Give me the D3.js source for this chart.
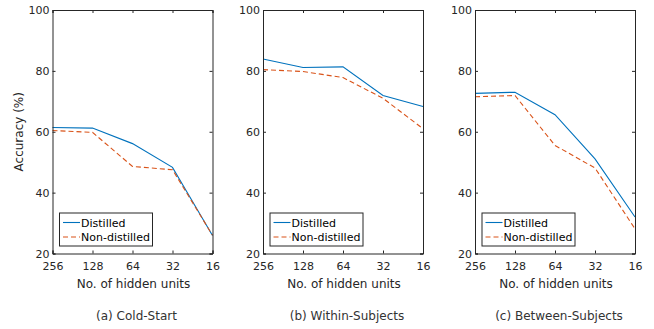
<!DOCTYPE html>
<html>
<head>
<meta charset="utf-8">
<script src="https://cdn.jsdelivr.net/npm/d3@7"></script>
<style>
  body { margin: 0; background: #fff; }
  svg { display: block; font-family: "DejaVu Sans", sans-serif; }
</style>
</head>
<body>
<svg id="chart" width="654" height="329"></svg>
<script>
// hidden units (x categories)
const units = ["256", "128", "64", "32", "16"];
const yTicks = [20, 40, 60, 80, 100];
const seriesNames = ["Distilled", "Non-distilled"];

// (a) Cold-Start
const coldDistilled = [61.4, 61.2, 56.1, 48.3, 25.9];
const coldNonDistilled = [60.4, 59.8, 48.6, 47.5, 26.0];
// (b) Within-Subjects
const withinDistilled = [83.9, 81.1, 81.3, 71.9, 68.3];
const withinNonDistilled = [80.4, 79.8, 77.8, 71.0, 61.0];
// (c) Between-Subjects
const betweenDistilled = [72.6, 73.0, 65.6, 51.1, 32.0];
const betweenNonDistilled = [71.5, 71.9, 55.5, 48.1, 28.1];

const captions = ["(a) Cold-Start", "(b) Within-Subjects", "(c) Between-Subjects"];

const panels = [
  { left: 52.5, data: [coldDistilled, coldNonDistilled] },
  { left: 263, data: [withinDistilled, withinNonDistilled] },
  { left: 475, data: [betweenDistilled, betweenNonDistilled] }
];

const colors = ["#0072BD", "#D95319"];
const dashes = [null, "5,3"];
const axisColor = "#262626";

const svg = d3.select("#chart");
const plotTop = 10, plotBottom = 253.5, plotWidth = 160;

panels.forEach((p, pi) => {
  const x = d3.scalePoint().domain(units).range([p.left, p.left + plotWidth]);
  const y = d3.scaleLinear().domain([20, 100]).range([plotBottom, plotTop]);

  const g = svg.append("g");

  // lines
  const line = d3.line().x((d, i) => x(units[i])).y(d => y(d));
  p.data.forEach((vals, si) => {
    g.append("path")
      .attr("d", line(vals))
      .attr("fill", "none")
      .attr("stroke", colors[si])
      .attr("stroke-width", 1.1)
      .attr("stroke-dasharray", dashes[si]);
  });

  // axes (inside ticks, box)
  const left = g.append("g").attr("transform", `translate(${p.left},0)`)
    .call(d3.axisLeft(y).tickValues(yTicks).tickSize(-3).tickPadding(5));
  const right = g.append("g").attr("transform", `translate(${p.left + plotWidth},0)`)
    .call(d3.axisRight(y).tickValues(yTicks).tickSize(-3).tickFormat(""));
  const bot = g.append("g").attr("transform", `translate(0,${plotBottom})`)
    .call(d3.axisBottom(x).tickSize(-3).tickPadding(8.5));
  const topAx = g.append("g").attr("transform", `translate(0,${plotTop})`)
    .call(d3.axisTop(x).tickSize(-3).tickFormat(""));

  [left, right, bot, topAx].forEach(a => {
    a.select(".domain").attr("stroke", axisColor).attr("stroke-width", 1);
    a.selectAll(".tick line").attr("stroke", axisColor);
    a.selectAll("text").attr("fill", axisColor).style("font-size", "11px")
      .style("font-family", "DejaVu Sans, sans-serif");
  });
  left.selectAll("text").attr("dx", "2");

  // x label
  g.append("text")
    .attr("x", p.left + plotWidth / 2 + 1).attr("y", 288)
    .attr("text-anchor", "middle")
    .attr("fill", axisColor).style("font-size", "12px")
    .text("No. of hidden units");

  // caption
  g.append("text")
    .attr("x", p.left + plotWidth / 2 + 4).attr("y", 320)
    .attr("text-anchor", "middle")
    .attr("fill", "#333").style("font-size", "12px")
    .text(captions[pi]);

  // legend
  const lx = p.left + 7, ly = 213;
  const lg = g.append("g");
  lg.append("rect")
    .attr("x", lx).attr("y", ly).attr("width", 93).attr("height", 33)
    .attr("fill", "#fff").attr("stroke", axisColor).attr("stroke-width", 1);
  seriesNames.forEach((name, si) => {
    const ry = ly + 9.5 + si * 14.5;
    lg.append("line")
      .attr("x1", lx + 3.5).attr("x2", lx + 20.5)
      .attr("y1", ry).attr("y2", ry)
      .attr("stroke", colors[si]).attr("stroke-width", 1.1)
      .attr("stroke-dasharray", dashes[si]);
    lg.append("text")
      .attr("x", lx + 21.5).attr("y", ry + 4)
      .attr("fill", "#000").style("font-size", "11px")
      .text(name);
  });
});

// y label (first panel only)
svg.append("text")
  .attr("transform", `translate(23,${(plotTop + plotBottom) / 2}) rotate(-90)`)
  .attr("text-anchor", "middle")
  .attr("fill", axisColor).style("font-size", "12px")
  .text("Accuracy (%)");
</script>
</body>
</html>
